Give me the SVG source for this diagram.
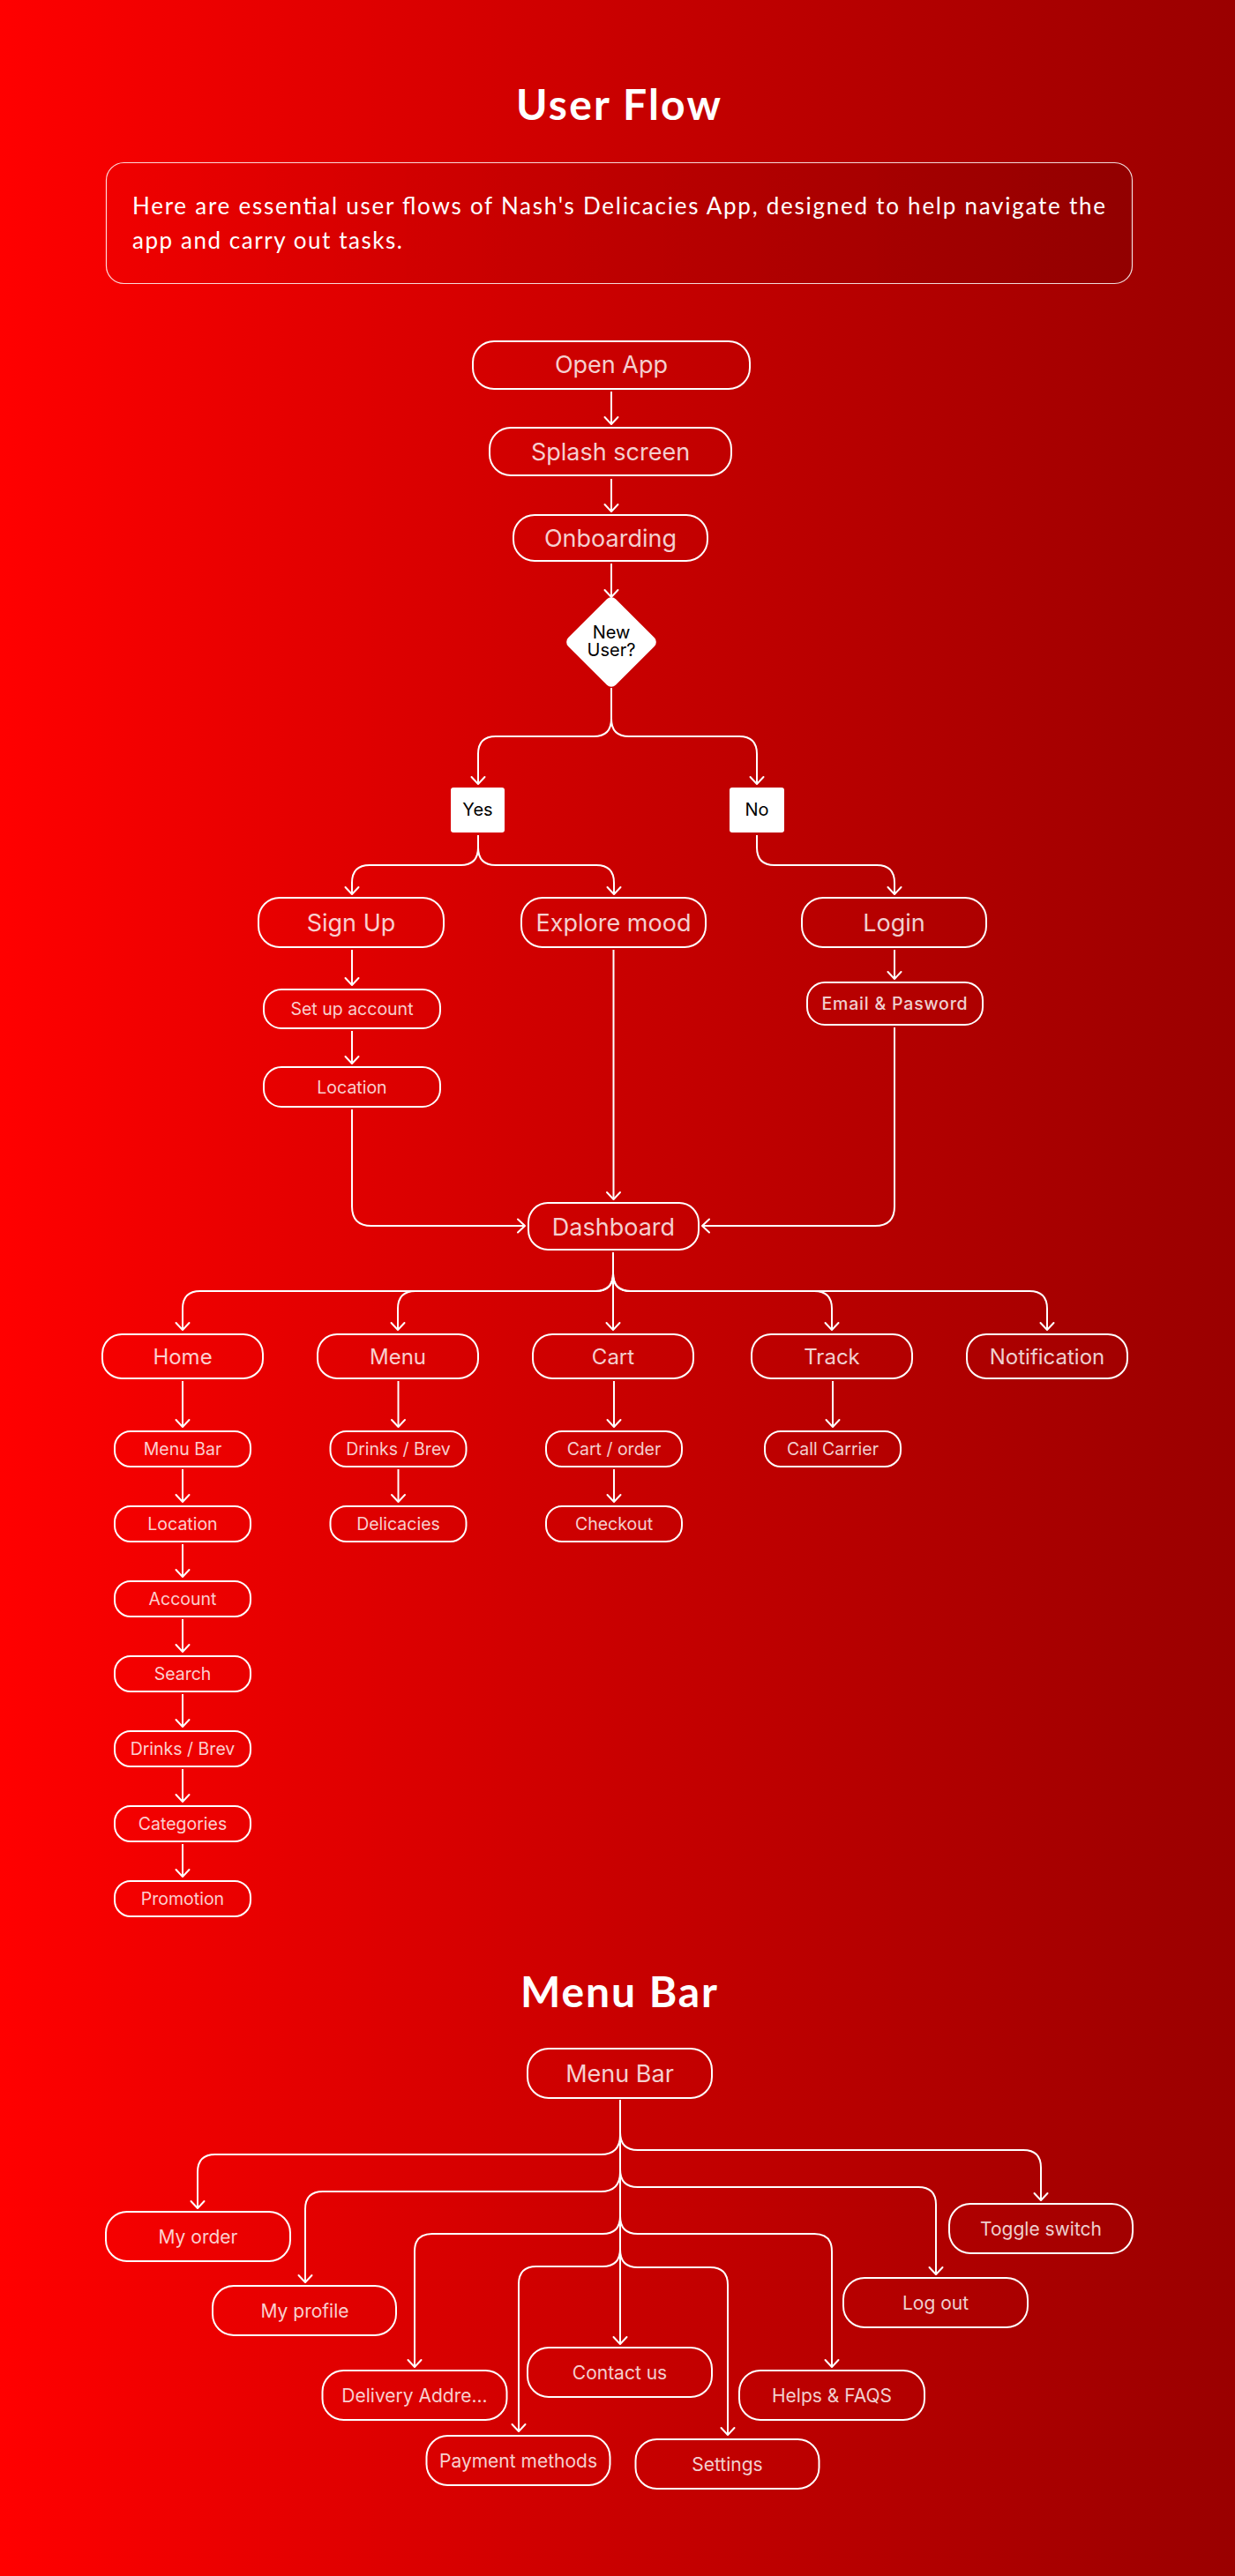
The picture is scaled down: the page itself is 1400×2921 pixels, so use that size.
<svg xmlns="http://www.w3.org/2000/svg" width="1400" height="2921" viewBox="0 0 1400 2921">
<defs>
<linearGradient id="bg" x1="0" y1="0" x2="1" y2="0">
<stop offset="0" stop-color="#FF0000"/>
<stop offset="0.5" stop-color="#C90000"/>
<stop offset="1" stop-color="#9A0000"/>
</linearGradient>
<linearGradient id="desc" x1="0" y1="0" x2="1" y2="0">
<stop offset="0" stop-color="#000" stop-opacity="0.02"/>
<stop offset="1" stop-color="#000" stop-opacity="0.1"/>
</linearGradient>
<marker id="ah" markerUnits="userSpaceOnUse" markerWidth="20" markerHeight="20" refX="0" refY="0" orient="auto" style="overflow:visible">
<path d="M-8,-7.5 L0,0 L-8,7.5" fill="none" stroke="#fff" stroke-width="2" stroke-linecap="round" stroke-linejoin="round"/>
</marker>
<style>
.n{fill:none;stroke:#fff;stroke-width:2}
.w{fill:#fff;stroke:none}
.t{font-family:Inter,"Noto Sans","Liberation Sans",sans-serif;fill:#fff;fill-opacity:0.82;text-anchor:middle}
.k{font-family:Inter,"Noto Sans","Liberation Sans",sans-serif;fill:#000;text-anchor:middle;font-size:20px}
.L{font-size:27px}
.M{font-size:24px}
.S{font-size:19.5px}
.B{font-size:21px}
.h{font-family:Lato,"Open Sans","Liberation Sans",sans-serif;font-weight:700;font-size:48px;fill:#fff;text-anchor:middle}
.d{font-family:Lato,"Open Sans","Liberation Sans",sans-serif;font-size:26px;fill:#fff}
.c{fill:none;stroke:#fff;stroke-width:2;marker-end:url(#ah)}
</style>
</defs>
<rect x="0" y="0" width="1400" height="2921" fill="url(#bg)"/>

<g id="title-userflow"><text class="h" x="701" y="136" textLength="232">User Flow</text></g>
<g id="description">
<rect x="120.5" y="184.5" width="1163" height="137" rx="20" fill="url(#desc)" stroke="#fff" stroke-opacity="0.85" stroke-width="1.2"/>
<text class="d" x="150" y="243" textLength="1103">Here are essential user flows of Nash's Delicacies App, designed to help navigate the</text>
<text class="d" x="150" y="282" textLength="306">app and carry out tasks.</text>
</g>

<g id="connectors">
<path class="c" d="M693,444 L693,481"/>
<path class="c" d="M693,543 L693,580"/>
<path class="c" d="M693,639 L693,677"/>
<path class="c" d="M693,780 L693,815 Q693,835 673,835 L562,835 Q542,835 542,855 L542,889"/>
<path class="c" d="M693,815 Q693,835 713,835 L838,835 Q858,835 858,855 L858,889"/>
<path class="c" d="M542,947 L542,961 Q542,981 522,981 L419,981 Q399,981 399,1001 L399,1014"/>
<path class="c" d="M542,961 Q542,981 562,981 L676,981 Q696,981 696,1001 L696,1014"/>
<path class="c" d="M858,947 L858,961 Q858,981 878,981 L994,981 Q1014,981 1014,1001 L1014,1014"/>
<path class="c" d="M399,1077 L399,1117"/>
<path class="c" d="M399,1169 L399,1206"/>
<path class="c" d="M399,1258 L399,1368 Q399,1390 421,1390 L595,1390"/>
<path class="c" d="M695.5,1077 L695.5,1360"/>
<path class="c" d="M1014,1077 L1014,1110"/>
<path class="c" d="M1014,1165 L1014,1368 Q1014,1390 992,1390 L796,1390"/>
<path class="c" d="M695,1420 L695,1508"/>
<path class="c" d="M695,1444 Q695,1464 675,1464 L227,1464 Q207,1464 207,1484 L207,1508"/>
<path class="c" d="M695,1444 Q695,1464 675,1464 L471,1464 Q451,1464 451,1484 L451,1508"/>
<path class="c" d="M695,1444 Q695,1464 715,1464 L923,1464 Q943,1464 943,1484 L943,1508"/>
<path class="c" d="M695,1444 Q695,1464 715,1464 L1167,1464 Q1187,1464 1187,1484 L1187,1508"/>
<path class="c" d="M207,1566 L207,1618"/>
<path class="c" d="M207,1666 L207,1703"/>
<path class="c" d="M207,1751 L207,1788"/>
<path class="c" d="M207,1836 L207,1873"/>
<path class="c" d="M207,1921 L207,1958"/>
<path class="c" d="M207,2006 L207,2043"/>
<path class="c" d="M207,2091 L207,2128"/>
<path class="c" d="M451.5,1566 L451.5,1618"/>
<path class="c" d="M451.5,1666 L451.5,1703"/>
<path class="c" d="M696,1566 L696,1618"/>
<path class="c" d="M696,1666 L696,1703"/>
<path class="c" d="M944,1566 L944,1618"/>
<path class="c" d="M703,2381 L703,2658"/>
<path class="c" d="M703,2421 Q703,2443 681,2443 L244,2443 Q224,2443 224,2463 L224,2504"/>
<path class="c" d="M703,2418 Q703,2438 723,2438 L1160,2438 Q1180,2438 1180,2458 L1180,2495"/>
<path class="c" d="M703,2463 Q703,2485 681,2485 L366,2485 Q346,2485 346,2505 L346,2588"/>
<path class="c" d="M703,2460 Q703,2480 723,2480 L1041,2480 Q1061,2480 1061,2500 L1061,2579"/>
<path class="c" d="M703,2513 Q703,2533 683,2533 L490,2533 Q470,2533 470,2553 L470,2684"/>
<path class="c" d="M703,2513 Q703,2533 723,2533 L923,2533 Q943,2533 943,2553 L943,2684"/>
<path class="c" d="M703,2550 Q703,2570 683,2570 L608,2570 Q588,2570 588,2590 L588,2757"/>
<path class="c" d="M703,2551 Q703,2571 723,2571 L805,2571 Q825,2571 825,2591 L825,2761"/>
</g>

<g id="open-app"><rect class="n" x="536" y="387" width="314" height="54" rx="24"/><text class="t L" x="693" y="423">Open App</text></g>
<g id="splash-screen"><rect class="n" x="555" y="485" width="274" height="54" rx="24"/><text class="t L" x="692" y="522">Splash screen</text></g>
<g id="onboarding"><rect class="n" x="582" y="584" width="220" height="52" rx="24"/><text class="t L" x="692" y="620">Onboarding</text></g>
<g id="new-user"><rect class="w" x="655" y="690" width="76" height="76" rx="7" transform="rotate(45 693 728)"/><text class="k" x="693" y="724">New</text><text class="k" x="693" y="744">User?</text></g>
<g id="yes"><rect class="w" x="511" y="893" width="61" height="51" rx="3"/><text class="k" x="541.5" y="925">Yes</text></g>
<g id="no"><rect class="w" x="827" y="893" width="62" height="51" rx="3"/><text class="k" x="858" y="925">No</text></g>
<g id="sign-up"><rect class="n" x="293" y="1018" width="210" height="56" rx="24"/><text class="t L" x="398" y="1056">Sign Up</text></g>
<g id="explore-mood"><rect class="n" x="591" y="1018" width="209" height="56" rx="24"/><text class="t L" x="695.5" y="1056">Explore mood</text></g>
<g id="login"><rect class="n" x="909" y="1018" width="209" height="56" rx="24"/><text class="t L" x="1013.5" y="1056">Login</text></g>
<g id="set-up-account"><rect class="n" x="299" y="1122" width="200" height="44" rx="20"/><text class="t S" x="399" y="1151">Set up account</text></g>
<g id="location-1"><rect class="n" x="299" y="1210" width="200" height="45" rx="20"/><text class="t S" x="399" y="1240">Location</text></g>
<g id="email-pasword"><rect class="n" x="915" y="1114" width="199" height="48" rx="20"/><text class="t S" x="1014.5" y="1145" style="letter-spacing:0.8px;font-weight:500">Email &amp; Pasword</text></g>
<g id="dashboard"><rect class="n" x="599" y="1364" width="193" height="53" rx="22"/><text class="t L" x="695.5" y="1401">Dashboard</text></g>

<g id="home"><rect class="n" x="116" y="1513" width="182" height="50" rx="22"/><text class="t M" x="207" y="1547">Home</text></g>
<g id="menu"><rect class="n" x="360" y="1513" width="182" height="50" rx="22"/><text class="t M" x="451" y="1547">Menu</text></g>
<g id="cart"><rect class="n" x="604" y="1513" width="182" height="50" rx="22"/><text class="t M" x="695" y="1547">Cart</text></g>
<g id="track"><rect class="n" x="852" y="1513" width="182" height="50" rx="22"/><text class="t M" x="943" y="1547">Track</text></g>
<g id="notification"><rect class="n" x="1096" y="1513" width="182" height="50" rx="22"/><text class="t M" x="1187" y="1547">Notification</text></g>

<g id="menu-bar-1"><rect class="n" x="130" y="1623" width="154" height="40" rx="18"/><text class="t S" x="207" y="1650">Menu Bar</text></g>
<g id="location-2"><rect class="n" x="130" y="1708" width="154" height="40" rx="18"/><text class="t S" x="207" y="1735">Location</text></g>
<g id="account"><rect class="n" x="130" y="1793" width="154" height="40" rx="18"/><text class="t S" x="207" y="1820">Account</text></g>
<g id="search"><rect class="n" x="130" y="1878" width="154" height="40" rx="18"/><text class="t S" x="207" y="1905">Search</text></g>
<g id="drinks-brev-2"><rect class="n" x="130" y="1963" width="154" height="40" rx="18"/><text class="t S" x="207" y="1990">Drinks / Brev</text></g>
<g id="categories"><rect class="n" x="130" y="2048" width="154" height="40" rx="18"/><text class="t S" x="207" y="2075">Categories</text></g>
<g id="promotion"><rect class="n" x="130" y="2133" width="154" height="40" rx="18"/><text class="t S" x="207" y="2160">Promotion</text></g>
<g id="drinks-brev-1"><rect class="n" x="374.5" y="1623" width="154" height="40" rx="18"/><text class="t S" x="451.5" y="1650">Drinks / Brev</text></g>
<g id="delicacies"><rect class="n" x="374.5" y="1708" width="154" height="40" rx="18"/><text class="t S" x="451.5" y="1735">Delicacies</text></g>
<g id="cart-order"><rect class="n" x="619" y="1623" width="154" height="40" rx="18"/><text class="t S" x="696" y="1650">Cart / order</text></g>
<g id="checkout"><rect class="n" x="619" y="1708" width="154" height="40" rx="18"/><text class="t S" x="696" y="1735">Checkout</text></g>
<g id="call-carrier"><rect class="n" x="867" y="1623" width="154" height="40" rx="18"/><text class="t S" x="944" y="1650">Call Carrier</text></g>

<g id="title-menubar"><text class="h" x="701.5" y="2276" textLength="223">Menu Bar</text></g>
<g id="menu-bar-root"><rect class="n" x="598" y="2323" width="209" height="56" rx="24"/><text class="t L" x="702.5" y="2361">Menu Bar</text></g>
<g id="my-order"><rect class="n" x="120" y="2508" width="209" height="56" rx="24"/><text class="t B" x="224.5" y="2544">My order</text></g>
<g id="toggle-switch"><rect class="n" x="1076" y="2499" width="208" height="56" rx="24"/><text class="t B" x="1180" y="2535">Toggle switch</text></g>
<g id="my-profile"><rect class="n" x="241" y="2592" width="208" height="56" rx="24"/><text class="t B" x="345.5" y="2628">My profile</text></g>
<g id="log-out"><rect class="n" x="956" y="2583" width="209" height="56" rx="24"/><text class="t B" x="1060.5" y="2619">Log out</text></g>
<g id="delivery-address"><rect class="n" x="365.5" y="2688" width="209" height="56" rx="24"/><text class="t B" x="470" y="2724">Delivery Addre...</text></g>
<g id="contact-us"><rect class="n" x="598" y="2662" width="209" height="56" rx="24"/><text class="t B" x="702.5" y="2698">Contact us</text></g>
<g id="helps-faqs"><rect class="n" x="838" y="2688" width="210" height="56" rx="24"/><text class="t B" x="943" y="2724">Helps &amp; FAQS</text></g>
<g id="payment-methods"><rect class="n" x="483.5" y="2762" width="208" height="56" rx="24"/><text class="t B" x="587.5" y="2798">Payment methods</text></g>
<g id="settings"><rect class="n" x="720.5" y="2766" width="208" height="56" rx="24"/><text class="t B" x="824.5" y="2802">Settings</text></g>
</svg>
